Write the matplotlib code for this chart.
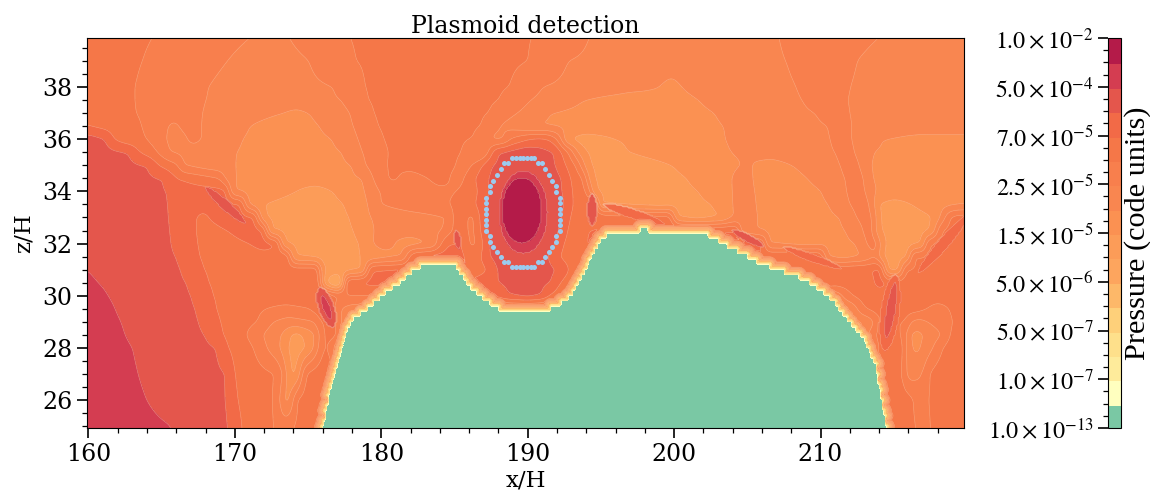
#%%
import numpy as np
import matplotlib
matplotlib.use("Agg")
import matplotlib.pyplot as plt
from matplotlib.ticker import MultipleLocator, FixedLocator

plt.rcParams['font.family'] = 'DejaVu Serif'
plt.rcParams['mathtext.fontset'] = 'stix'

# %%
band_colors = ['#7AC8A4', '#FFFFBF', '#FEEB9B', '#FEE08B', '#FED07A', '#FDB869', '#FDA55E', '#FC9C58',
               '#FB9152', '#F98650', '#F87F4D', '#F57748', '#F26A47', '#E4564C', '#D43D51', '#B41B49']
pressure_labels = [r'$1.0\times10^{-13}$', r'$1.0\times10^{-7}$', r'$5.0\times10^{-7}$', r'$5.0\times10^{-6}$',
                   r'$1.5\times10^{-5}$', r'$2.5\times10^{-5}$', r'$7.0\times10^{-5}$', r'$5.0\times10^{-4}$',
                   r'$1.0\times10^{-2}$']

# a level k is the edge between colour band k-1 and band k
z_rows = [40, 39, 38, 37.5, 37, 36.5, 36, 35.5, 35, 34.5, 34, 33.5, 33, 32.5, 32, 31.5, 31, 30.5, 30, 29.5, 29,
          28.5, 28, 27, 26, 25]
row_40 = [160,11.5, 164.5,11, 168,10.5, 171.3,10, 172.5,9.5, 173.6,10, 175.5,10.5, 177.7,11, 184,11.5, 190.4,11, 192.4,10.5, 194.2,10, 200,9.5, 207.2,10, 210,10.5, 214.2,10, 220,9.5]
row_39 = [160,11.5, 163.7,11, 166.5,10.5, 169.5,10, 172,9.5, 175.1,10, 176.5,10.5, 178.2,11, 185,11.5, 190.1,11, 191.5,10.5, 192.7,10, 200,9.5, 207.7,10, 210,10.5, 212.5,10, 216,9.5, 220,9.5]
row_38 = [160,11.5, 163.2,11, 165.5,10.5, 168.2,10, 171,9.5, 176.8,10, 177.8,10.5, 178.8,11, 184,11.5, 188.8,11, 190,10.5, 191,10, 196,9.5, 199,9, 199.8,8.7, 200.5,9, 204,9.5, 208.4,10, 210,10.5, 212,10, 216,9.5, 220,9.5]
row_375 = [160,11.5, 163.2,11, 165.5,10.5, 168,10, 172,9.5, 177.3,10, 178.2,10.5, 179,11, 184,11.5, 188.1,11, 189.2,10.5, 190.2,10, 192,9.5, 193.8,9, 197,8.5, 201.7,9, 205,9.5, 208.8,10, 210,10.5, 211.8,10, 216,9.5, 220,9.5]
row_37 = [160,11.5, 163.3,11, 165.5,10.5, 167.8,10, 170,9.5, 173.3,9, 174.2,8.7, 175.1,9, 177.9,10, 178.6,10.5, 179.4,11, 183,11.5, 187.4,11, 188.3,10.5, 189.3,10, 190.5,9.5, 191.5,9, 197,8.5, 202.8,9, 206,9.5, 209.7,10, 210.8,10.5, 211.9,10, 216,9.5, 220,9.5]
row_365 = [160,12, 161,11.7, 163.7,11, 164.5,10.5, 165.5,10, 165.8,9.7, 166.1,10, 166.9,10.3, 167.7,10, 169.5,9.5, 171,9, 173.5,8.5, 175.8,9, 178.1,10, 178.9,10.5, 179.7,11, 183,11.5, 186.9,11, 187.5,10.5, 188.1,10, 189,9.5, 190.1,9, 197,8.5, 203.4,9, 207,9.5, 210.6,10, 211.3,10.5, 212,10, 216,9.5, 220,9.5]
row_36 = [160,13.5, 161.2,13, 161.7,12, 162.5,11.5, 164,11, 164.6,10.5, 165.3,10, 166,9.6, 166.8,10, 167.2,10.3, 167.7,10, 169,9.5, 170.5,9, 173.5,8.5, 176.7,9, 177.6,9.5, 178.4,10, 179.2,10.5, 180.1,11, 183,11.5, 186.3,11, 186.9,10.5, 187.4,10, 188,9.7, 188.4,10, 188.8,11, 190,12, 190.8,12.3, 191.5,12, 192,11, 192.3,10, 192.5,9, 192.7,8, 194,7.5, 196,8, 200,8.5, 203.5,9, 207,9.5, 210.8,10, 211.4,10.5, 212.1,10, 213,9.5, 214.2,9, 217,8.7, 220,8.7]
row_355 = [160,13.5, 162.8,13, 163.5,12, 164.2,11.5, 164.7,11, 165.1,10.5, 165.5,10, 167.5,9.5, 170.1,9, 173.5,8.5, 177.4,9, 178,9.5, 178.7,10, 179.5,10.5, 180.4,11, 183,11.5, 185.6,11, 186.1,10, 186.5,9.7, 187,10, 187.3,11, 187.6,12, 187.9,13, 189.9,13.7, 191.9,13, 192.3,12, 192.8,11, 193.1,10, 193.4,9, 194,8, 195.5,7.5, 196.8,8, 200,8.5, 203.9,9, 207,9.5, 211.1,10, 211.7,10.5, 212.3,10, 213,9.5, 213.5,9, 217,8.7, 220,8.7]
row_35 = [160,13.5, 164.1,13, 164.8,12, 165.5,11.5, 166.2,11, 166.4,10, 168,9.5, 170,9, 174,8.5, 178.1,9, 178.9,10, 180.3,11, 183,11.5, 185.2,11, 185.6,10.5, 186.2,11, 186.9,12, 187.5,13, 189.7,13.7, 192,13, 192.6,12, 193.3,11, 193.6,10, 193.9,9, 194.2,8, 197,7.5, 199.9,8, 202,8.5, 204.7,9, 205,9.3, 205.2,9, 206.7,8.6, 208.1,9, 210,9.5, 211.4,10, 212,10.5, 212.7,10, 213,9.5, 213.3,9, 217,8.5, 220,8.5]
row_345 = [160,13.5, 165.2,13, 166,12, 167.5,11.5, 169,11, 169.3,10, 169.9,9, 174,8.5, 178.8,9, 179.4,10, 180.5,11, 180.8,11.3, 181.1,11, 182,10.6, 183.2,11, 184,11.3, 184.7,11, 185.2,10.7, 185.7,11, 186.4,12, 187.3,13, 188.4,13.8, 189.5,13.9, 190.6,13.8, 192.4,13, 192.9,12, 193.8,11, 194,10, 194.2,9, 194.4,8, 197.5,7.5, 200.9,8, 202.5,8.5, 204,9, 204.7,9.5, 205.3,9, 207,8.5, 209.1,9, 210.5,9.5, 211.7,10, 212.4,10.5, 213,10, 213.2,9.5, 213.4,9, 217,8.5, 220,8.5]
row_34 = [160,13.5, 165.4,13, 167,12.5, 169.3,12.3, 169.5,12, 169.6,11, 169.7,10, 169.9,9, 172,8.5, 174.2,8, 175.5,7.5, 176.7,8, 178,8.5, 178.9,9, 179.8,10, 182,10.5, 185.2,11, 186.2,11.5, 186.6,12, 187.2,13, 189.6,13.8, 192.5,13, 193,12, 193.6,11.5, 194,11, 194.3,10, 194.4,9, 194.6,8, 198,7.5, 201.7,8, 203,8.5, 204,9, 204.7,9.5, 205.4,9, 208,8.5, 210.1,9, 211,9.5, 211.8,10, 212.4,10.5, 213.1,10, 213.4,9.5, 213.6,9, 217,8.5, 220,8.5]
row_335 = [160,13.5, 165.5,13, 167,12.5, 170.3,12.2, 170.5,12, 170.6,11, 170.7,10, 170.9,9, 171.4,8.5, 171.9,8, 175,7.5, 177.5,8, 178.4,8.5, 179.1,9, 179.9,10, 182,10.6, 184.7,11, 185.5,11.5, 186.5,12, 187.1,13, 189.6,13.8, 192.7,13, 193,12, 193.6,11.5, 194.6,12, 194.7,12, 194.75,10, 194.9,8, 199,7.5, 202.6,8, 203.3,8.5, 204,9, 204.8,9.5, 205.5,9, 208,8.5, 210.6,9, 211.3,9.5, 212,10, 212.8,10.5, 213.4,10, 213.7,9, 213.9,8, 215,7.5, 216.2,8, 218,8.6, 220,9]
row_33 = [160,13.5, 165.6,13, 166.5,12.5, 167.4,12, 167.8,11.7, 168.2,12, 169.5,12.6, 171.2,12.2, 171.4,12, 171.5,11, 171.6,10, 171.8,9, 172,8, 175,7.5, 177.9,8, 178.6,8.5, 179.2,9, 182,9.5, 184.6,10, 184.8,11, 185.4,11.5, 185.9,11, 186.15,10.7, 186.4,11, 186.7,12, 187.1,13, 189.6,13.8, 192.5,13, 192.8,12, 193.5,11.5, 194.8,12, 195.5,11.6, 199.5,11.5, 199.9,11, 200,9, 200.2,8, 201.5,7.5, 203.3,8, 203.6,8.5, 204,9, 204.8,9.5, 205.6,9, 208.5,8.5, 211.4,9, 212,9.5, 212.4,10, 213,10.3, 213.7,10, 213.8,9, 213.9,8, 216,7.5, 217.7,8, 218.2,9, 218.5,10, 218.8,11, 219.3,11.5, 220,11.5]
row_325 = [160,13.5, 165.7,13, 166.5,12.5, 167.3,12, 168.4,11.7, 169.5,12, 171,12.5, 172,12, 172.1,11, 172.2,10, 172.3,9, 172.4,8, 175,7.5, 178.2,8, 178.8,8.5, 179.4,9, 182,9.5, 184.3,10, 184.8,11, 185.4,11.5, 185.9,11, 186.15,10.7, 186.4,11, 186.8,12, 187.1,13, 189.6,13.8, 192.3,13, 192.6,12, 193.4,11.5, 194,12, 194.6,12, 202.3,12, 204.3,12, 204.5,11, 204.6,9, 205.1,9.4, 205.6,9, 208,8.5, 211.8,9, 212.4,9.5, 212.9,10, 213.3,10.5, 213.6,10, 213.8,9, 214,8, 216,7.5, 217.6,8, 217.8,9, 218,10, 218.2,11, 219.4,11.5, 220,11.5]
row_32 = [160,13.5, 165.8,13, 166.5,12.5, 167.4,12, 169,11.6, 171,12, 172,12.4, 172.9,12, 173,11, 173.1,10, 173.2,9, 173.4,8, 176,7.5, 178.6,8, 179,8.5, 179.4,9, 180.2,9.5, 180.9,9, 182,8.5, 183.5,9, 183.8,10, 184.1,11, 184.5,12, 185.7,12, 185.9,11, 186.2,10.7, 186.5,11, 187,12, 187.2,13, 189.6,13.8, 192.1,13, 192.3,12, 193.5,11.5, 194,12, 194.8,12.3, 202,12.3, 205,12.5, 206.2,12, 206.25,10, 206.3,9, 209,8.5, 212.5,9, 213.1,10, 213.7,10.5, 213.9,10, 214.1,9, 214.3,8, 215.5,7.5, 217,8, 217.1,9, 217.2,10, 217.3,11, 219.5,11.5, 220,11.5]
row_315 = [160,13.5, 166.1,13, 166.8,12.5, 167.5,12, 170,11.6, 173.6,11.7, 173.7,11, 173.8,10, 173.9,9, 174.1,8, 176.5,7.5, 178.6,8, 180,8.5, 181.5,9, 181.7,10, 181.9,11, 182.2,12, 183.8,12.5, 185.2,12.3, 185.7,12, 186.3,11.6, 186.9,12, 187.3,13, 189.4,13.8, 191.5,13, 192.1,12, 193,11.5, 194,11.5, 194.7,12, 205.8,12, 208,12.2, 210.1,12, 210.2,11, 210.3,10, 210.4,9, 211.5,8.5, 212.9,9, 213.3,9.5, 213.8,10, 214,9, 214.2,8, 215,7.5, 216.1,8, 216.13,9, 216.17,10, 216.2,11, 220,11.5]
row_31 = [160,14, 160.3,13.8, 163,13.5, 166.4,13, 167,12.5, 167.8,12, 172,11.5, 175.6,11.6, 175.7,11, 175.8,10, 175.9,9, 176,8, 177.5,7.5, 178.8,8, 178.9,9, 179,10, 179.1,11, 179.3,12, 183,12.5, 185.9,12, 186.8,11.7, 187.3,12, 187.8,13, 190,13.5, 192.1,13, 192.8,12, 193.3,11.5, 207.7,11.5, 213.5,12, 213.9,12.3, 214.2,12, 214.3,11, 214.35,10, 214.4,9, 214.45,8, 215,7.6, 215.5,8, 215.55,9, 215.6,10, 215.7,11, 220,11.5]
row_305 = [160,14.3, 160.6,14, 163,13.5, 166.8,13, 167.4,12.5, 168.1,12, 172,11.5, 175.8,11.7, 175.82,11, 175.85,10, 175.9,9, 176,8, 176.3,7, 176.6,6, 176.9,5.5, 177.2,6, 177.3,7, 177.4,8, 177.45,9, 177.5,10, 177.55,11, 177.6,12, 179,12.3, 185,12.3, 186.3,12, 187,12.5, 187.9,13, 190,13.4, 191.7,13, 192.2,12, 192.8,11.5, 213.5,11.6, 213.6,12, 214,12.4, 214.6,12, 215,11.5, 220,11.5]
row_30 = [160,14.5, 161.3,14, 164,13.5, 167.1,13, 167.8,12.5, 168.4,12, 172,11.5, 175.7,11.8, 176.5,11.8, 177,11, 186,11, 187.5,12, 188.7,13, 190,13.4, 191,13, 191.5,12, 192.5,11, 210,10.5, 211,9, 211.5,10, 212.1,11, 213,11.5, 220,11.5]
row_295 = [160,14.5, 161.8,14, 164,13.5, 167.4,13, 168,12.5, 168.7,12, 170,11.5, 172.2,11, 173.5,10.7, 175.1,11, 175.8,11.8, 176.5,11.8, 176.8,11, 177.2,10, 178,9.5, 211,9, 212.1,9, 212.5,10, 213,11, 214,11.5, 216.5,11.5, 217.3,11, 218,10.6, 218.8,11, 219.5,11.5, 220,11.5]
row_29 = [160,14.5, 162.2,14, 165,13.5, 167.6,13, 168.3,12.5, 169,12, 170,11.5, 171.6,11, 172.6,10, 173.7,9.6, 175.5,10, 175.8,11, 176.5,11.3, 177,11, 177.2,10, 177.7,9, 212,9, 213,9, 213.7,10, 214,11, 215.9,11, 216.1,10, 216.7,9.6, 217.3,10, 218.2,10.5, 219.1,11, 219.5,11.5, 220,11.5]
row_285 = [160,14.5, 162.5,14, 165,13.5, 168,13, 168.6,12.5, 169.2,12, 170,11.5, 170.8,11, 171.9,10, 172.5,9.5, 173.2,9, 173.8,8, 174.2,7.6, 174.6,8, 175.5,9, 175.8,10, 176,11, 176.7,11.5, 177,11, 177.2,10, 212,9, 213.7,10.5, 213.8,11.5, 215.7,11, 215.8,10, 216.1,9, 216.6,8.6, 217,9, 218.3,10, 218.8,11, 219.5,11.5, 220,11.5]
row_28 = [160,14.5, 163,14, 166,13.5, 168.8,13, 169.2,12.5, 169.5,12, 170.5,11.5, 171.3,11, 172.2,10, 173.1,9, 173.6,8, 174.2,7.5, 174.9,8, 175.4,9, 175.7,10, 176,11, 176.4,11.2, 176.7,10, 177,9, 213.5,9, 213.9,11, 214.2,11.5, 215.5,11.5, 215.7,11, 215.8,10, 215.95,9.5, 216.3,9, 216.55,8.6, 216.8,9, 217.7,10, 218.3,11, 219,11.5, 220,11.5]
row_27 = [160,14.5, 163.4,14, 166.5,13.5, 169.5,13, 169.7,12.5, 169.9,12, 171,11.5, 172.8,11, 173.3,10, 173.5,9, 173.8,8, 174,7.8, 174.3,8, 174.4,9, 174.6,10, 174.8,11, 175.5,11.5, 176,11.7, 176.4,11.5, 215,11.5, 215.7,11, 215.8,10, 216,9.5, 217,10, 217.4,11, 218,11.5, 220,11.5]
row_26 = [160,14.5, 164,14, 167,13.5, 169.5,13, 169.8,12.5, 170.1,12, 171.5,11.5, 172.7,11, 173.1,10, 173.3,9, 173.5,8.6, 173.8,9, 174,10, 174.1,11, 175,11.5, 216,11.5, 216.3,11, 216.8,10.5, 217.4,11, 218,11.5, 220,11.5]
row_25 = [160,14.5, 165.7,14, 168,13.5, 169.6,13, 170,12.5, 170.4,12, 171.5,11.5, 172.7,11, 173.3,10.5, 174,11, 175,11.5, 215,11.5, 216.6,11, 217,10.5, 217.5,11, 218,11.5, 220,11.5]
z_profiles = [row_40, row_39, row_38, row_375, row_37, row_365, row_36, row_355, row_35, row_345, row_34, row_335,
              row_33, row_325, row_32, row_315, row_31, row_305, row_30, row_295, row_29, row_285, row_28, row_27,
              row_26, row_25]

# plasmoid core, centre and half sizes in x and z, level at the edge
core_x = [189.7, 189.6]
core_z = [33.2, 33.27]
core_rx = [1.7, 1.4]
core_rz = [1.6, 1.27]
core_level = [14, 15]

# thin high pressure slivers: from (x1, z1) to (x2, z2), half width in pixels, level at their edge
ridge_x1 = [168.0, 204.0, 195.2, 207.5, 216.7, 215.1, 215.1, 175.95, 175.8, 185.1, 194.4]
ridge_z1 = [34.15, 32.5, 33.5, 31.85, 30.9, 30.5, 30.8, 30.0, 30.3, 32.5, 33.9]
ridge_x2 = [170.7, 206.1, 199.3, 211.4, 220.1, 214.5, 214.4, 176.55, 176.7, 185.3, 194.4]
ridge_z2 = [32.8, 31.9, 32.75, 31.05, 33.1, 28.4, 27.9, 29.1, 28.8, 31.8, 32.7]
ridge_width = [5, 4, 5, 4, 6, 5, 10, 4, 8, 3.5, 5]
ridge_level = [13, 13, 12, 12, 12, 13, 12, 14, 13, 13, 13]

# top of the green (floor) region
floor_x = [175.8, 176, 176.5, 177, 177.5, 178, 179, 180, 181, 182, 183, 184, 185, 186, 187, 188, 189, 190, 191, 192,
           193, 194, 195, 196, 197, 197.6, 197.9, 198.2, 199, 200, 201, 202, 203, 204, 205, 206, 207, 208, 209, 210,
           211, 212, 213, 213.8, 214.1, 214.5, 214.8]
floor_z = [24.5, 25, 26.5, 27.5, 28.5, 29.1, 29.5, 30, 30.4, 30.9, 31.2, 31.3, 31.2, 30.4, 29.85, 29.5, 29.4, 29.4,
           29.4, 29.6, 30, 31.1, 32.2, 32.5, 32.5, 32.5, 32.7, 32.5, 32.5, 32.5, 32.5, 32.4, 32.1, 31.8, 31.5, 31.2,
           31, 30.8, 30.6, 30.2, 29.7, 29, 28.3, 27.3, 26.3, 25, 24.5]

# detected plasmoid boundary cells
plasmoid_x = [188.93, 189.21, 189.46, 189.71, 189.96, 190.21, 190.46, 190.69, 190.96, 191.19, 191.44, 191.69, 191.94,
              191.94, 192.19, 192.19, 192.19, 192.19, 192.19, 192.19, 192.19, 191.94, 191.94, 191.69, 191.44, 191.19,
              190.96, 190.69, 190.46, 190.21, 189.96, 189.71, 189.46, 189.21, 188.93, 188.68, 188.41, 188.18, 187.91,
              187.66, 187.41, 187.41, 187.16, 187.16, 187.16, 187.16, 187.16, 187.16, 187.16, 187.41, 187.41, 187.66,
              187.91, 188.18, 188.41, 188.68]
plasmoid_z = [35.29, 35.29, 35.29, 35.29, 35.29, 35.29, 35.29, 35.07, 35.07, 34.84, 34.63, 34.41, 34.19, 33.98, 33.75,
              33.54, 33.34, 33.12, 32.92, 32.7, 32.49, 32.29, 32.07, 31.87, 31.68, 31.49, 31.28, 31.28, 31.09, 31.09,
              31.09, 31.09, 31.09, 31.09, 31.09, 31.28, 31.28, 31.49, 31.68, 31.87, 32.07, 32.29, 32.49, 32.7, 32.92,
              33.12, 33.34, 33.54, 33.75, 33.98, 34.19, 34.41, 34.63, 34.84, 35.07, 35.07]

# %%
# build the field on a fine grid from the rows
xf = np.arange(159.9, 219.85, 0.1)
zf = np.arange(24.9, 39.95, 0.05)
rows = np.array([np.interp(xf, p[0::2], p[1::2]) for p in z_profiles])[::-1]
z_up = np.array(z_rows[::-1], dtype=float)
field = np.array([np.interp(zf, z_up, rows[:, i]) for i in range(len(xf))]).T


def box(a, n, axis):
    # light running mean, edges repeated
    pad = [(0, 0), (0, 0)]
    pad[axis] = (n // 2, n // 2)
    b = np.pad(a, pad, mode='edge')
    return np.apply_along_axis(lambda v: np.convolve(v, np.ones(n) / n, mode='valid'), axis, b)


for i in range(2):
    field = box(box(field, 5, 1), 5, 0)

PX, PZ = 14.66, 26.1
X, Z = np.meshgrid(xf, zf)
for cx, cz, rx, rz, level in zip(core_x, core_z, core_rx, core_rz, core_level):
    r = np.hypot((X - cx) / rx, (Z - cz) / rz)
    field = np.where(r < 1, np.maximum(field, level + 0.5 * (1 - r)), field)

# slivers are lens shaped, distances measured in pixels
for x1, z1, x2, z2, w, level in zip(ridge_x1, ridge_z1, ridge_x2, ridge_z2, ridge_width, ridge_level):
    ax_, az_ = (x2 - x1) * PX, (z2 - z1) * PZ
    t = np.clip((((X - x1) * PX) * ax_ + ((Z - z1) * PZ) * az_) / (ax_ ** 2 + az_ ** 2), 0, 1)
    d = np.hypot((X - x1) * PX - t * ax_, (Z - z1) * PZ - t * az_)
    wt = w * np.sqrt(1 - (2 * t - 1) ** 2) + 0.01
    field = np.where(d < wt, np.maximum(field, level + 0.5 * (1 - d / wt)), field)

# floor with its thin yellow rim, blocky like the simulation cells
top = np.round(np.interp(xf, floor_x, floor_z) * 5) / 5
for j, z in enumerate(zf):
    d = np.sqrt(((xf[:, None] - xf[None, :]) * PX) ** 2 + ((z - top[None, :]) * PZ) ** 2).min(axis=1)
    rim = 1 + d * 1.3
    field[j] = np.where(z < top, 0.5, np.minimum(field[j], rim))

# %%
fig = plt.figure(figsize=(11.5, 4.91), dpi=100)
ax = fig.add_axes([87 / 1150, 1 - 428 / 491, 877 / 1150, 390 / 491])
levels = np.arange(0, 17)
cs = ax.contourf(xf, zf, field, levels=levels, colors=band_colors)
ax.contour(xf, zf, field, levels=levels[6:16], colors='#FCC8A0', linewidths=0.4, alpha=0.6)
ax.scatter(plasmoid_x, plasmoid_z, s=13, color='#9BCBF0', linewidths=0, zorder=3)

ax.set_xlim(159.9, 219.8)
ax.set_ylim(24.93, 39.88)
ax.xaxis.set_major_locator(MultipleLocator(10))
ax.xaxis.set_minor_locator(MultipleLocator(2))
ax.yaxis.set_major_locator(MultipleLocator(2))
ax.yaxis.set_minor_locator(MultipleLocator(0.5))
ax.tick_params(which='major', length=7, width=1.2, labelsize=17)
ax.tick_params(which='minor', length=3.5, width=0.9)
ax.set_xlabel('x/H', fontsize=16.5, labelpad=3)
ax.set_ylabel('z/H', fontsize=16.5, labelpad=5.5)
ax.set_title('Plasmoid detection', fontsize=17, pad=3)

cax = fig.add_axes([1108 / 1150, 1 - 428 / 491, 13 / 1150, 390 / 491])
cbar = fig.colorbar(cs, cax=cax, ticks=levels[::2])
cax.yaxis.set_ticks_position('left')
cax.yaxis.set_label_position('right')
cax.set_yticklabels(pressure_labels, fontsize=17.3)
cax.yaxis.set_minor_locator(FixedLocator(np.arange(0, 16.5, 0.5)))
cax.tick_params(which='major', length=7, width=1.2)
cax.tick_params(which='minor', length=3.5, width=0.9)
cbar.set_label('Pressure (code units)', family='Liberation Serif', fontsize=21.8, labelpad=2)
cbar.solids.set_edgecolor('face')

fig.savefig('out.png', dpi=100)
